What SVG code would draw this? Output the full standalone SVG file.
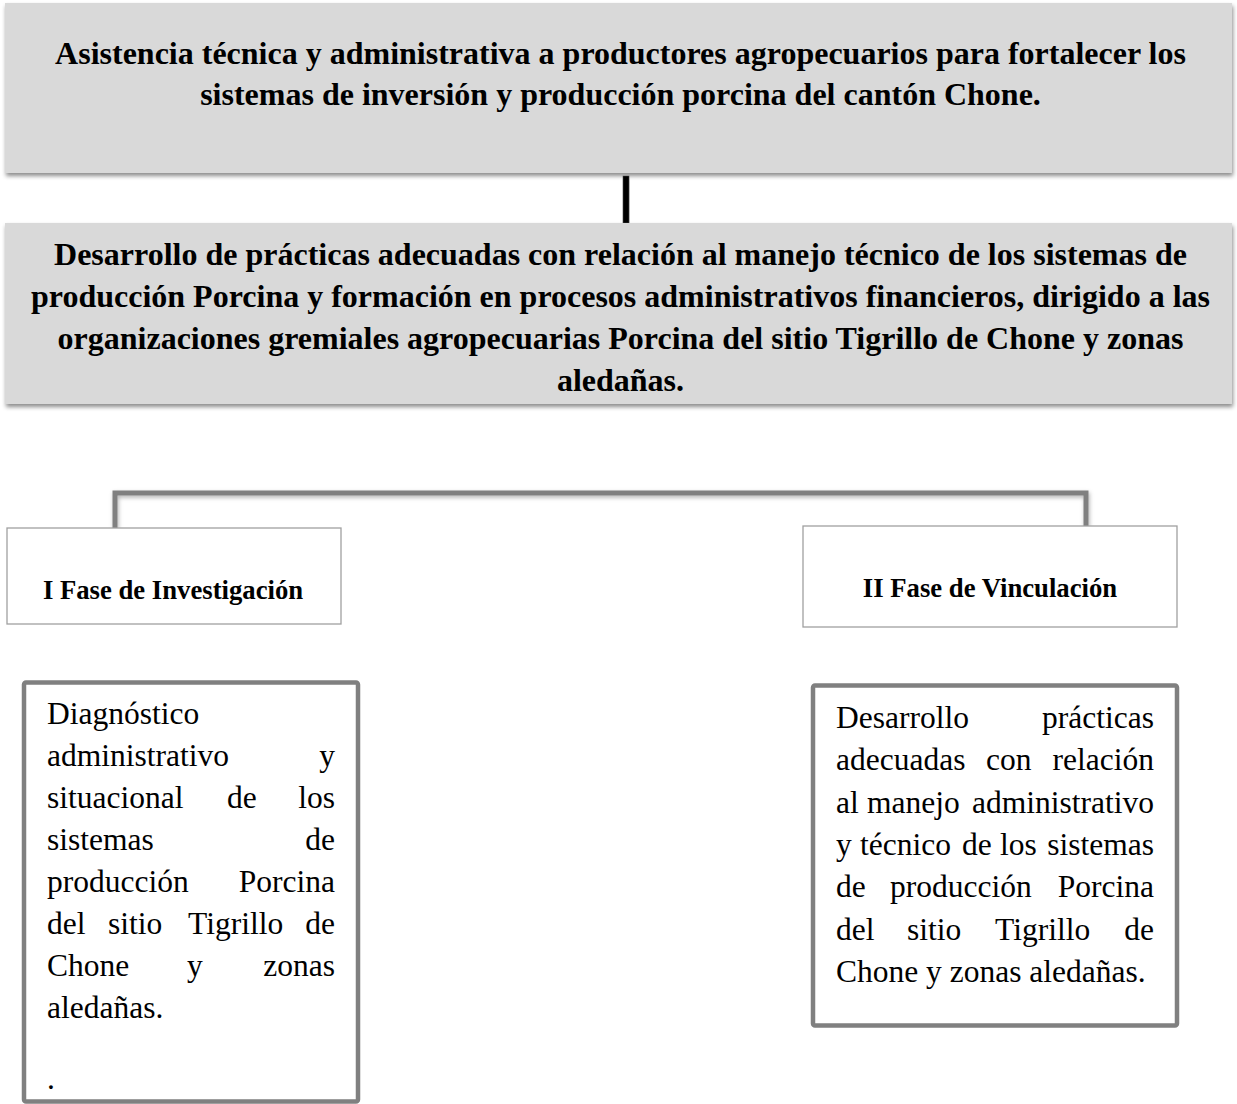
<svg xmlns="http://www.w3.org/2000/svg" width="1237" height="1104" viewBox="0 0 1237 1104">
<style>
.hb{font-family:"Liberation Serif","Times New Roman",serif;font-weight:bold;font-size:32px;fill:#000;text-anchor:middle}
.ph{font-family:"Liberation Serif","Times New Roman",serif;font-weight:bold;font-size:26.7px;fill:#000;text-anchor:middle}
.bd{font-family:"Liberation Serif","Times New Roman",serif;font-size:31.5px;fill:#000}
.e{text-anchor:end}
.gray{fill:#d9d9d9;filter:url(#sh)}
.phase{fill:#fff;stroke:#a0a0a0;stroke-width:1.3}
.det{fill:#fff;stroke:#808080;stroke-width:4.5}
.conn{fill:none;stroke:#808080;stroke-width:5;filter:url(#sh2)}
</style>
<defs>
<filter id="sh" x="-5%" y="-10%" width="110%" height="130%">
<feDropShadow dx="1" dy="3" stdDeviation="2" flood-color="#000" flood-opacity="0.45"/>
</filter>
<filter id="sh2" x="-5%" y="-20%" width="110%" height="150%">
<feDropShadow dx="1" dy="2" stdDeviation="2" flood-color="#000" flood-opacity="0.3"/>
</filter>
</defs>
<rect width="1237" height="1104" fill="#fff"/>
<g id="connectors">
<rect x="623" y="176" width="6" height="47" fill="#000" stroke="#555" stroke-width="0.5" filter="url(#sh2)"/>
<path class="conn" d="M115,528 V493 H1086 V526"/>
<path class="conn" d="M115,624 V681"/>
<path class="conn" d="M1086,627 V684"/>
</g>
<g id="n1">
<rect class="gray" x="5" y="3" width="1227" height="170"/>
<text class="hb" x="620.5" y="64">Asistencia técnica y administrativa a productores agropecuarios para fortalecer los</text>
<text class="hb" x="620.5" y="105">sistemas de inversión y producción porcina del cantón Chone.</text>
</g>
<g id="n2">
<rect class="gray" x="5" y="223" width="1227" height="181"/>
<text class="hb" x="620.5" y="265">Desarrollo de prácticas adecuadas con relación al manejo técnico de los sistemas de</text>
<text class="hb" x="620.5" y="307">producción Porcina y formación en procesos administrativos financieros, dirigido a las</text>
<text class="hb" x="620.5" y="349">organizaciones gremiales agropecuarias Porcina del sitio Tigrillo de Chone y zonas</text>
<text class="hb" x="620.5" y="391">aledañas.</text>
</g>
<g id="n3">
<rect class="phase" x="7" y="528" width="334" height="96"/>
<text class="ph" x="173" y="599">I Fase de Investigación</text>
</g>
<g id="n4">
<rect class="phase" x="803" y="526" width="374" height="101"/>
<text class="ph" x="990" y="597">II Fase de Vinculación</text>
</g>
<g id="n5">
<rect class="det" x="24" y="682.5" width="334" height="419" rx="2"/>
<text class="bd" x="47" y="724">Diagnóstico</text>
<text class="bd" x="47" y="766">administrativo</text><text class="bd e" x="335" y="766">y</text>
<text class="bd" x="47" y="808">situacional</text><text class="bd" x="227" y="808">de</text><text class="bd e" x="335" y="808">los</text>
<text class="bd" x="47" y="850">sistemas</text><text class="bd e" x="335" y="850">de</text>
<text class="bd" x="47" y="892">producción</text><text class="bd e" x="335" y="892">Porcina</text>
<text class="bd" x="47" y="934">del</text><text class="bd" x="108" y="934">sitio</text><text class="bd" x="188" y="934">Tigrillo</text><text class="bd e" x="335" y="934">de</text>
<text class="bd" x="47" y="976">Chone</text><text class="bd" x="187" y="976">y</text><text class="bd e" x="335" y="976">zonas</text>
<text class="bd" x="47" y="1018">aledañas.</text>
<text class="bd" x="47" y="1089">.</text>
</g>
<g id="n6">
<rect class="det" x="813" y="685.5" width="364" height="340" rx="2"/>
<text class="bd" x="836" y="728">Desarrollo</text><text class="bd e" x="1154" y="728">prácticas</text>
<text class="bd" x="836" y="770">adecuadas</text><text class="bd" x="986" y="770">con</text><text class="bd e" x="1154" y="770">relación</text>
<text class="bd" x="836" y="813">al</text><text class="bd" x="867" y="813">manejo</text><text class="bd e" x="1154" y="813">administrativo</text>
<text class="bd" x="836" y="855">y</text><text class="bd" x="860" y="855">técnico</text><text class="bd" x="962" y="855">de</text><text class="bd" x="1000" y="855">los</text><text class="bd e" x="1154" y="855">sistemas</text>
<text class="bd" x="836" y="897">de</text><text class="bd" x="890" y="897">producción</text><text class="bd e" x="1154" y="897">Porcina</text>
<text class="bd" x="836" y="940">del</text><text class="bd" x="907" y="940">sitio</text><text class="bd" x="995" y="940">Tigrillo</text><text class="bd e" x="1154" y="940">de</text>
<text class="bd" x="836" y="982">Chone y zonas aledañas.</text>
</g>
</svg>
